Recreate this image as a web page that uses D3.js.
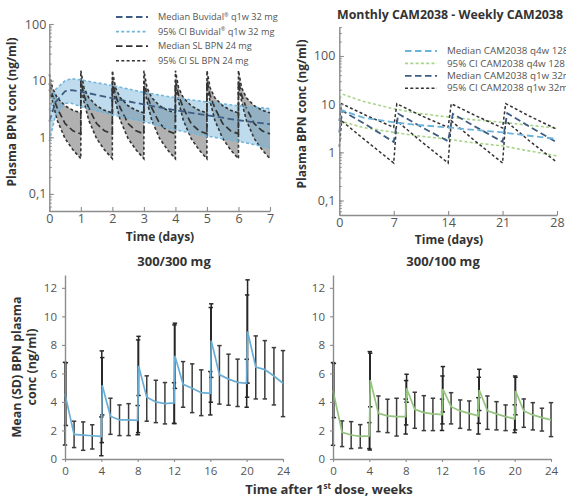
<!DOCTYPE html>
<html>
<head>
<meta charset="utf-8">
<script src="https://cdn.jsdelivr.net/npm/d3@7"></script>
<style>
  body { margin: 0; background: #fff; }
  svg { display: block; }
</style>
</head>
<body>
<script>
// ---------- Panel A: Buvidal q1w vs SL BPN daily (days) ----------
const daysA = [0, 1, 2, 3, 4, 5, 6, 7];
const buvTime   = [0, 0.2, 0.5, 0.7, 1, 2, 3, 4, 5, 6, 7];
const buvMedian = [1.9, 4.2, 6.5, 6.8, 6.4, 4.9, 3.8, 3.0, 2.45, 2.0, 1.7];
const buvUpper  = [3.0, 7.0, 10.0, 10.8, 10.3, 8.2, 6.2, 5.0, 4.2, 3.6, 3.2];
const buvLower  = [0.85, 2.5, 4.0, 4.0, 3.5, 2.5, 1.9, 1.35, 1.05, 0.85, 0.65];

const slTime = [0, 0.1, 0.25, 0.5, 0.75, 0.999,
                1, 1.1, 1.25, 1.5, 1.75, 1.999,
                2, 2.1, 2.25, 2.5, 2.75, 2.999,
                3, 3.1, 3.25, 3.5, 3.75, 3.999,
                4, 4.1, 4.25, 4.5, 4.75, 4.999,
                5, 5.1, 5.25, 5.5, 5.75, 5.999,
                6, 6.1, 6.25, 6.5, 6.75, 7];
const slUpper = [13, 7.5, 5.0, 3.6, 3.0, 2.7,
                 15, 7.5, 5.0, 3.6, 3.0, 2.7,
                 15, 7.5, 5.0, 3.6, 3.0, 2.7,
                 15, 7.5, 5.0, 3.6, 3.0, 2.7,
                 15, 7.5, 5.0, 3.6, 3.0, 2.7,
                 15, 7.5, 5.0, 3.6, 3.0, 2.7,
                 15, 7.5, 5.0, 3.6, 3.0, 2.7];
const slMedian = [9, 5.5, 3.3, 1.75, 1.3, 1.15,
                  10, 5.5, 3.3, 1.75, 1.3, 1.15,
                  10, 5.5, 3.3, 1.75, 1.3, 1.15,
                  10, 5.5, 3.3, 1.75, 1.3, 1.15,
                  10, 5.5, 3.3, 1.75, 1.3, 1.15,
                  10, 5.5, 3.3, 1.75, 1.3, 1.15,
                  10, 5.5, 3.3, 1.75, 1.3, 1.15];
const slLower = [7, 4.3, 2.0, 0.95, 0.6, 0.42,
                 8, 4.3, 2.0, 0.95, 0.6, 0.42,
                 8, 4.3, 2.0, 0.95, 0.6, 0.42,
                 8, 4.3, 2.0, 0.95, 0.6, 0.42,
                 8, 4.3, 2.0, 0.95, 0.6, 0.42,
                 8, 4.3, 2.0, 0.95, 0.6, 0.42,
                 8, 4.3, 2.0, 0.95, 0.6, 0.42];

const legendA = ["Median Buvidal", "95% CI Buvidal", "Median SL BPN 24 mg", "95% CI SL BPN 24 mg"];

// ---------- Panel B: monthly vs weekly CAM2038 (days) ----------
const daysB = [0, 7, 14, 21, 28];
const q4wTime   = [0, 0.5, 3, 7, 10, 14, 17, 21, 24, 28];
const q4wMedian = [7.0, 7.3, 5.3, 4.2, 3.7, 3.3, 2.95, 2.6, 2.25, 1.9];
const q4wUpper  = [13, 16, 11.5, 8.0, 6.5, 5.4, 4.8, 4.2, 3.7, 3.2];
const q4wLower  = [4.0, 4.3, 3.3, 2.6, 2.2, 1.87, 1.6, 1.36, 1.1, 0.84];

const q1wTime   = [0, 0.4, 3.5, 7, 7.6, 10.5, 14, 14.6, 17.5, 21, 21.6, 24.5, 28];
const q1wMedian = [2.6, 7.3, 3.7, 1.64, 6.3, 3.4, 1.7, 6.3, 3.4, 1.65, 6.5, 3.4, 1.6];
const q1wCITime = [0, 0.3, 3.5, 7, 7.4, 10.5, 14, 14.4, 17.5, 21, 21.4, 24.5, 28];
const q1wUpper  = [4.5, 10.2, 5.8, 3.3, 10.2, 5.8, 3.3, 10.2, 5.8, 3.2, 10.3, 5.6, 3.0];
const q1wLower  = [1.3, 4.5, 1.7, 0.6, 4.5, 1.7, 0.6, 4.5, 1.7, 0.6, 4.5, 1.7, 0.62];

const legendB = ["Median CAM2038 q4w 128 mg", "95% CI CAM2038 q4w 128 mg",
                 "Median CAM2038 q1w 32mg", "95% CI CAM2038 q1w 32mg"];

const logTicks = [0.1, 1, 10, 100];
const logTickLabels = ["0,1", "1", "10", "100"];

// ---------- Panels C and D: mean (SD) by week ----------
const weekTicks = [0, 4, 8, 12, 16, 20, 24];
const concTicks = [0, 2, 4, 6, 8, 10, 12];

const lineWeek = [0, 1, 2, 3, 4, 4.1, 5, 6, 7, 8, 8.1, 9, 10, 11, 12, 12.1,
                  13, 14, 15, 16, 16.1, 17, 18, 19, 20, 20.1, 21, 22, 23, 24];
const mean300 = [4.55, 1.72, 1.67, 1.63, 1.58, 5.17, 3.0, 2.74, 2.74, 2.71, 6.53,
                 4.33, 4.0, 3.88, 3.93, 7.23, 5.24, 4.96, 4.65, 4.61, 8.3,
                 5.92, 5.6, 5.37, 5.31, 8.94, 6.45, 6.27, 5.82, 5.31];
const mean100 = [4.8, 1.87, 1.68, 1.59, 1.62, 5.54, 3.2, 3.02, 2.97, 2.97, 4.96,
                 3.49, 3.25, 3.16, 3.11, 4.9, 3.67, 3.37, 3.2, 3.02, 4.84,
                 3.37, 3.16, 2.97, 2.81, 4.77, 3.37, 3.09, 2.9, 2.74];

const barWeek = [0, 0.1, 1, 2, 3, 4, 4.05, 4.1, 5, 6, 7, 8, 8.05, 8.1, 9, 10, 11,
                 12, 12.05, 12.1, 13, 14, 15, 16, 16.05, 16.1, 17, 18, 19,
                 20, 20.05, 20.1, 21, 22, 23, 24];
const barDose = [1, 1, 0, 0, 0, 1, 1, 1, 0, 0, 0, 1, 1, 1, 0, 0, 0,
                 1, 1, 1, 0, 0, 0, 1, 1, 1, 0, 0, 0,
                 1, 1, 1, 0, 0, 0, 0];
const lo300 = [0.98, 2.35, 0.8, 0.61, 0.7, 0.23, 1.15, 3.09, 1.73, 1.64, 1.64, 1.7, 1.85, 4.45,
               2.65, 2.55, 2.46, 2.5, 2.48, 4.95, 3.63, 3.25, 3.04, 3.09, 3.98, 5.72,
               3.85, 3.77, 3.68, 3.63, 4.33, 5.32, 4.21, 4.21, 3.79, 2.97];
const hi300 = [6.78, 6.75, 2.65, 2.6, 2.4, 2.95, 7.58, 7.11, 4.26, 3.79, 3.88, 3.75, 8.35, 8.6,
               5.83, 5.52, 5.36, 5.35, 9.4, 9.52, 6.83, 6.67, 6.25, 6.13, 10.62, 10.88,
               7.95, 7.35, 7.0, 6.99, 11.5, 12.56, 8.63, 8.3, 7.81, 7.6];
const lo100 = [0.96, 2.9, 0.87, 0.73, 0.77, 0.73, 0.63, 3.66, 1.92, 1.85, 1.61, 1.75, 2.39, 3.98,
               2.15, 1.99, 1.99, 2.0, 2.46, 3.3, 2.46, 2.15, 2.04, 1.75, 2.5, 3.4,
               2.08, 2.04, 1.99, 1.85, 2.04, 3.1, 2.22, 2.04, 1.96, 1.57];
const hi100 = [6.76, 6.7, 2.67, 2.62, 2.41, 2.55, 7.53, 7.42, 4.42, 4.19, 4.26, 4.2, 5.5, 5.94,
               4.68, 4.44, 4.26, 4.2, 5.82, 6.48, 4.65, 4.14, 4.07, 4.3, 5.73, 6.29,
               4.42, 4.02, 3.79, 3.8, 5.82, 5.73, 4.21, 3.95, 3.56, 3.95];

// ---------- drawing ----------
const width = 566, height = 497;
const font = "'Open Sans', 'DejaVu Sans', sans-serif";
const axisColor = "#8c8c8c", tickText = "#555", titleText = "#333";

const svg = d3.select("body").append("svg")
    .attr("width", width)
    .attr("height", height)
    .style("font-family", font);

svg.append("rect").attr("width", width).attr("height", height).attr("fill", "#fff");

function styleAxis(g, size) {
    g.attr("font-family", font).attr("font-size", size);
    g.select(".domain").attr("stroke", axisColor).attr("stroke-width", 1.4);
    g.selectAll(".tick line").attr("stroke", axisColor).attr("stroke-width", 1.1);
    g.selectAll(".tick text").attr("fill", tickText);
}

function logAxis(x0, y, pad) {
    // minor ticks
    svg.append("g")
        .attr("transform", `translate(${x0},0)`)
        .call(d3.axisLeft(y).tickValues(y.ticks()).tickFormat("").tickSizeInner(-2.5).tickSizeOuter(0))
        .call(g => g.select(".domain").remove())
        .call(g => g.selectAll(".tick line").attr("stroke", axisColor));
    svg.append("g")
        .attr("transform", `translate(${x0},0)`)
        .call(d3.axisLeft(y).tickValues(logTicks).tickFormat((d, i) => logTickLabels[i])
            .tickSizeInner(-4.5).tickSizeOuter(0).tickPadding(pad))
        .call(g => styleAxis(g, 12.5));
}

function path(g, xs, ys, x, y, color, dash, w) {
    g.append("path")
        .datum(xs.map((t, i) => [t, ys[i]]))
        .attr("fill", "none")
        .attr("stroke", color)
        .attr("stroke-width", w)
        .attr("stroke-dasharray", dash)
        .attr("d", d3.line().x(d => x(d[0])).y(d => y(d[1])));
}

function band(g, xs, lo, hi, x, y, fill, op) {
    g.append("path")
        .datum(xs.map((t, i) => [t, lo[i], hi[i]]))
        .attr("fill", fill)
        .attr("fill-opacity", op)
        .attr("d", d3.area().x(d => x(d[0])).y0(d => y(d[1])).y1(d => y(d[2])));
}

function yTitle(lines, x0, yc, size) {
    lines.forEach((s, i) => {
        svg.append("text")
            .attr("transform", `translate(${x0 + i * 15},${yc}) rotate(-90)`)
            .attr("text-anchor", "middle")
            .attr("font-weight", "bold")
            .attr("font-size", size)
            .attr("fill", titleText)
            .text(s);
    });
}

function xTitle(s, xc, yb, size) {
    return svg.append("text")
        .attr("x", xc).attr("y", yb)
        .attr("text-anchor", "middle")
        .attr("font-weight", "bold")
        .attr("font-size", size)
        .attr("fill", titleText)
        .text(s);
}

function legend(items, x0, y0, dy, size, styles) {
    items.forEach((s, i) => {
        const yy = y0 + i * dy;
        svg.append("line")
            .attr("x1", x0).attr("x2", x0 + 32).attr("y1", yy).attr("y2", yy)
            .attr("stroke", styles[i][0]).attr("stroke-width", styles[i][2])
            .attr("stroke-dasharray", styles[i][1]);
        const t = svg.append("text")
            .attr("x", x0 + 42).attr("y", yy + 3.2)
            .attr("font-size", size).attr("fill", tickText);
        if (styles[i][3]) {
            t.append("tspan").text(s);
            t.append("tspan").attr("font-size", 5.5).attr("dy", -3.5).text("®");
            t.append("tspan").attr("dy", 3.5).text(" q1w 32 mg");
        } else {
            t.text(s);
        }
    });
}

const longDash = "6.5,3.5", shortDash = "3,2.3";
const buvDark = "#3d5c82", buvLight = "#72b6dc", slBlack = "#333";

// ----- Panel A -----
const xA = d3.scaleLinear().domain([0, 7]).range([49.3, 270]);
const yA = d3.scaleLog().domain([0.05, 100]).range([211, 24]);
const gA = svg.append("g");
band(gA, slTime, slLower, slUpper, xA, yA, "#a3a3a3", 0.85);
band(gA, buvTime, buvLower, buvUpper, xA, yA, "#6fb1d6", 0.45);
path(gA, slTime, slUpper, xA, yA, slBlack, shortDash, 1.6);
path(gA, slTime, slLower, xA, yA, slBlack, shortDash, 1.6);
path(gA, slTime, slMedian, xA, yA, slBlack, longDash, 1.7);
path(gA, buvTime, buvUpper, xA, yA, buvLight, shortDash, 1.6);
path(gA, buvTime, buvLower, xA, yA, buvLight, shortDash, 1.6);
path(gA, buvTime, buvMedian, xA, yA, buvDark, longDash, 1.8);

svg.append("g")
    .attr("transform", `translate(0,211)`)
    .call(d3.axisBottom(xA).tickValues(daysA).tickFormat(d3.format("d"))
        .tickSizeInner(-4).tickSizeOuter(0).tickPadding(3.5))
    .call(g => styleAxis(g, 12.5));
logAxis(49.3, yA, 3);
yTitle(["Plasma BPN conc (ng/ml)"], 16, 112, 12);
xTitle("Time (days)", 160, 240.5, 12);
legend(legendA, 116, 17, 14.6, 9.2, [
    [buvDark, longDash, 1.8, true], [buvLight, shortDash, 1.6, true],
    [slBlack, longDash, 1.7, false], [slBlack, shortDash, 1.6, false]]);

// ----- Panel B -----
const xB = d3.scaleLinear().domain([0, 28]).range([339.3, 557]);
const yB = d3.scaleLog().domain([0.05, 400]).range([215, 27]);
const gB = svg.append("g");
const q4wBlue = "#6cb3dc", q4wGreen = "#a9d48c";
path(gB, q4wTime, q4wUpper, xB, yB, q4wGreen, shortDash, 1.6);
path(gB, q4wTime, q4wLower, xB, yB, q4wGreen, shortDash, 1.6);
path(gB, q1wCITime, q1wUpper, xB, yB, slBlack, shortDash, 1.5);
path(gB, q1wCITime, q1wLower, xB, yB, slBlack, shortDash, 1.5);
path(gB, q1wTime, q1wMedian, xB, yB, buvDark, longDash, 1.8);
path(gB, q4wTime, q4wMedian, xB, yB, q4wBlue, longDash, 1.8);

svg.append("g")
    .attr("transform", `translate(0,215)`)
    .call(d3.axisBottom(xB).tickValues(daysB).tickFormat(d3.format("d"))
        .tickSizeInner(-4).tickSizeOuter(0).tickPadding(3.5))
    .call(g => styleAxis(g, 12.5));
logAxis(339.3, yB, 4);
yTitle(["Plasma BPN conc (ng/ml)"], 306, 114, 12);
xTitle("Time (days)", 449, 244, 12);
svg.append("text")
    .attr("x", 337).attr("y", 19)
    .attr("font-weight", "bold").attr("font-size", 12).attr("fill", titleText)
    .attr("textLength", 226).attr("lengthAdjust", "spacingAndGlyphs")
    .text("Monthly CAM2038 - Weekly CAM2038");
legend(legendB, 405, 51, 12.4, 9.8, [
    [q4wBlue, longDash, 1.8, false], [q4wGreen, shortDash, 1.6, false],
    [buvDark, longDash, 1.8, false], [slBlack, shortDash, 1.5, false]]);

// ----- Panels C and D -----
function meanPanel(x0, title, titleX, means, lo, hi, lineColor) {
    const x = d3.scaleLinear().domain([0, 24]).range([x0, x0 + 218]);
    const y = d3.scaleLinear().domain([0, 12.9]).range([459, 275]);
    const g = svg.append("g");

    svg.append("g")
        .attr("transform", `translate(0,459)`)
        .call(d3.axisBottom(x).tickValues(weekTicks).tickSizeInner(3).tickSizeOuter(0).tickPadding(5))
        .call(gg => styleAxis(gg, 11.5));
    svg.append("g")
        .attr("transform", `translate(${x0},0)`)
        .call(d3.axisLeft(y).tickValues(concTicks).tickSizeInner(3).tickSizeOuter(0).tickPadding(5))
        .call(gg => styleAxis(gg, 11.5));

    const bars = g.selectAll("g.bar")
        .data(barWeek.map((w, i) => ({ w, lo: lo[i], hi: hi[i], dose: barDose[i] })))
        .join("g")
        .attr("stroke", d => d.dose ? "#262626" : "#3c3c3c")
        .attr("stroke-width", 1.5);
    bars.append("line")
        .attr("x1", d => x(d.w)).attr("x2", d => x(d.w))
        .attr("y1", d => y(d.lo)).attr("y2", d => y(d.hi));
    bars.append("line")
        .attr("x1", d => x(d.w) - 2.2).attr("x2", d => x(d.w) + 2.2)
        .attr("y1", d => y(d.lo)).attr("y2", d => y(d.lo));
    bars.append("line")
        .attr("x1", d => x(d.w) - 2.2).attr("x2", d => x(d.w) + 2.2)
        .attr("y1", d => y(d.hi)).attr("y2", d => y(d.hi));

    path(g, lineWeek, means, x, y, lineColor, null, 1.7);

    svg.append("text")
        .attr("x", titleX).attr("y", 266)
        .attr("text-anchor", "middle")
        .attr("font-weight", "bold").attr("font-size", 13).attr("fill", titleText)
        .text(title);
}

meanPanel(65, "300/300 mg", 174, mean300, lo300, hi300, "#6aaed5");
meanPanel(333, "300/100 mg", 443, mean100, lo100, hi100, "#94c57e");

yTitle(["Mean (SD) BPN plasma", "conc (ng/ml)"], 20.5, 367, 12.5);

const xt = xTitle("", 329, 494, 13);
xt.append("tspan").text("Time after 1");
xt.append("tspan").attr("font-size", 8).attr("dy", -5).text("st");
xt.append("tspan").attr("dy", 5).text(" dose, weeks");
</script>
</body>
</html>
